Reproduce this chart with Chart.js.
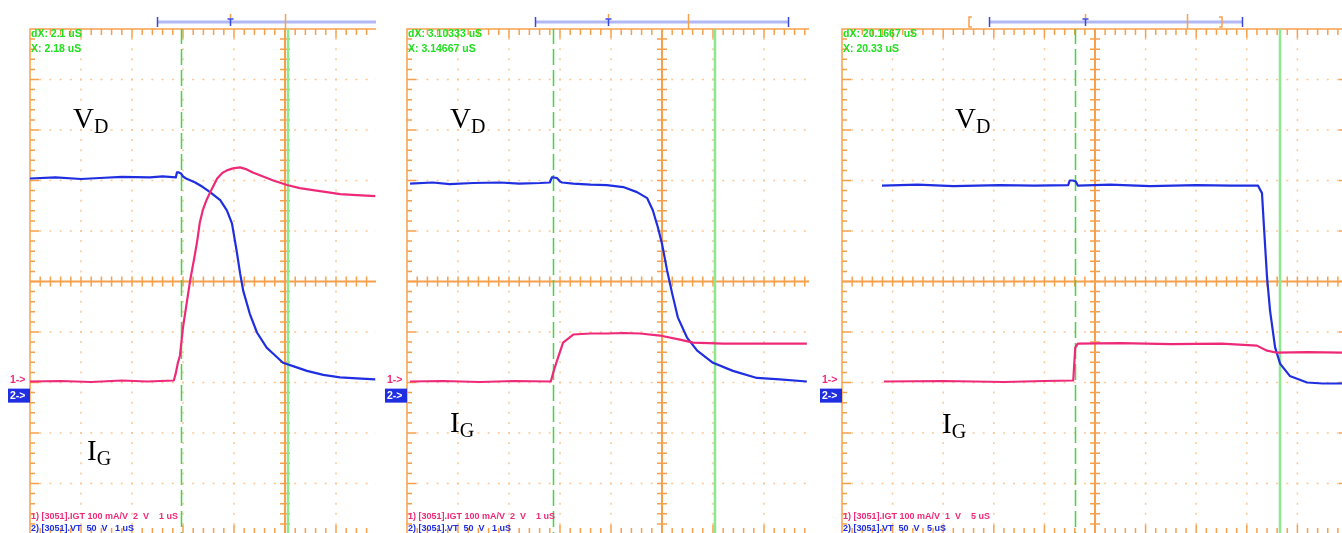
<!DOCTYPE html>
<html>
<head>
<meta charset="utf-8">
<script src="https://cdn.jsdelivr.net/npm/chart.js@4.4.0/dist/chart.umd.min.js"></script>
<style>
  html, body { margin: 0; padding: 0; background: #fff; }
  #page { position: relative; width: 1342px; height: 533px; overflow: hidden; }
  .wrap { position: absolute; top: 0; height: 533px; overflow: hidden; }
  .wrap canvas { position: absolute; left: 0; top: 0; }
  .lbl { position: absolute; font-family: "Liberation Serif", "Times New Roman", serif; font-size: 29px; line-height: 29px; color: #000; white-space: nowrap; }
  .lbl span { font-size: 20px; position: relative; top: 5px; }
</style>
</head>
<body>
<div id="page">
  <div class="wrap" id="w0"><canvas id="c0"></canvas></div>
  <div class="wrap" id="w1"><canvas id="c1"></canvas></div>
  <div class="wrap" id="w2"><canvas id="c2"></canvas></div>

  <div class="lbl" style="left:73px;top:104px">V<span>D</span></div>
  <div class="lbl" style="left:87px;top:436px">I<span>G</span></div>
  <div class="lbl" style="left:450px;top:104px">V<span>D</span></div>
  <div class="lbl" style="left:450px;top:408px">I<span>G</span></div>
  <div class="lbl" style="left:955px;top:104px">V<span>D</span></div>
  <div class="lbl" style="left:942px;top:409px">I<span>G</span></div>
</div>

<script>
// traces in screen divisions: x 0..10 from the left edge, y -5..5 from the centre line
const P1_VD_X = [0, 0.5, 1.0, 1.37, 1.8, 2.35, 2.6, 2.86, 2.88, 2.92, 2.96, 3.0, 3.06, 3.24, 3.39, 3.53, 3.73, 3.86, 3.96, 4.05, 4.12, 4.18, 4.31, 4.45, 4.64, 4.77, 4.96, 5.20, 5.43, 5.75, 6.08, 6.41, 6.77];
const P1_VD_Y = [2.04, 2.06, 2.03, 2.05, 2.07, 2.06, 2.08, 2.06, 2.16, 2.16, 2.14, 2.08, 2.04, 1.96, 1.87, 1.77, 1.61, 1.41, 1.15, 0.62, 0.16, -0.18, -0.64, -1.01, -1.31, -1.43, -1.61, -1.69, -1.77, -1.85, -1.90, -1.92, -1.94];
const P1_IG_X = [0, 0.6, 1.2, 1.8, 2.3, 2.82, 2.86, 2.90, 2.94, 3.0, 3.08, 3.14, 3.22, 3.28, 3.33, 3.39, 3.46, 3.53, 3.67, 3.77, 3.86, 3.98, 4.12, 4.25, 4.37, 4.57, 4.77, 5.04, 5.29, 5.55, 5.82, 6.08, 6.41, 6.77];
const P1_IG_Y = [-1.98, -1.97, -1.99, -1.96, -1.98, -1.96, -1.81, -1.61, -1.47, -0.91, -0.38, 0.02, 0.46, 0.81, 1.17, 1.42, 1.61, 1.76, 2.04, 2.15, 2.20, 2.24, 2.26, 2.22, 2.16, 2.08, 2.00, 1.91, 1.85, 1.81, 1.77, 1.73, 1.71, 1.69];

const P2_VD_X = [0.06, 0.5, 0.84, 1.3, 1.82, 2.2, 2.61, 2.80, 2.84, 2.88, 2.94, 3.0, 3.04, 3.26, 3.6, 3.92, 4.24, 4.51, 4.71, 4.82, 4.92, 5.0, 5.10, 5.20, 5.31, 5.49, 5.69, 6.0, 6.39, 6.86, 7.31, 7.84];
const P2_VD_Y = [1.94, 1.96, 1.93, 1.95, 1.96, 1.94, 1.95, 1.96, 2.06, 2.06, 2.05, 1.98, 1.96, 1.94, 1.92, 1.91, 1.87, 1.77, 1.65, 1.41, 1.07, 0.75, 0.22, -0.24, -0.71, -1.11, -1.37, -1.61, -1.77, -1.91, -1.94, -1.98];
const P2_IG_X = [0.06, 0.7, 1.43, 2.1, 2.82, 2.86, 2.94, 3.06, 3.26, 3.6, 3.92, 4.25, 4.57, 4.96, 5.35, 5.61, 6.2, 7.0, 7.84];
const P2_IG_Y = [-1.98, -1.97, -1.99, -1.97, -1.98, -1.83, -1.57, -1.21, -1.05, -1.03, -1.03, -1.02, -1.03, -1.07, -1.15, -1.21, -1.23, -1.23, -1.23];

const P3_VD_X = [0.79, 1.5, 2.2, 3.12, 3.8, 4.47, 4.50, 4.56, 4.62, 4.66, 5.3, 6.09, 7.0, 7.7, 8.22, 8.30, 8.34, 8.40, 8.46, 8.56, 8.66, 8.85, 9.19, 9.5, 9.88];
const P3_VD_Y = [1.90, 1.92, 1.89, 1.91, 1.90, 1.91, 2.00, 2.00, 1.98, 1.90, 1.92, 1.89, 1.91, 1.90, 1.90, 1.75, 1.07, 0.08, -0.58, -1.31, -1.63, -1.87, -2.00, -2.02, -2.02];
const P3_IG_X = [0.83, 2.0, 3.2, 4.0, 4.57, 4.61, 4.66, 5.5, 6.5, 7.5, 8.20, 8.40, 8.60, 9.2, 9.88];
const P3_IG_Y = [-1.98, -1.97, -1.99, -1.97, -1.96, -1.31, -1.23, -1.22, -1.24, -1.23, -1.27, -1.37, -1.41, -1.40, -1.41];

// cursors and top position bar, in divisions
const CURSOR_DASHED = [2.97, 2.87, 4.60];
const CURSOR_SOLID = [5.06, 6.03, 8.66];
const BAR_START = [2.49, 2.51, 2.905];
const BAR_END = [11, 7.47, 7.905];
const TRIG_POS = [3.92, 3.94, 4.80];
const POS_MARK = [5.0, 5.51, 6.82];

const DX_TEXT = ["dX: 2.1 uS", "dX: 3.10333 uS", "dX: 20.1667 uS"];
const X_TEXT = ["X: 2.18 uS", "X: 3.14667 uS", "X: 20.33 uS"];
const CH1_TEXT = ["1) [3051].IGT 100 mA/V  2  V    1 uS", "1) [3051].IGT 100 mA/V  2  V    1 uS", "1) [3051].IGT 100 mA/V  1  V    5 uS"];
const CH2_TEXT = ["2) [3051].VT  50  V   1 uS", "2) [3051].VT  50  V   1 uS", "2) [3051].VT  50  V   5 uS"];
const CH1_REF = -1.98;
const CH2_REF = -2.26;

const ORANGE = "#f7a04c";
const DOTS = "#fbc894";
const PINK = "#ee2a78";
const BLUE = "#1f2fe0";

const panels = [
  { wrapLeft: 0, wrapWidth: 376, gridLeft: 30, dw: 51, vd: [P1_VD_X, P1_VD_Y], ig: [P1_IG_X, P1_IG_Y] },
  { wrapLeft: 380, wrapWidth: 429, gridLeft: 407, dw: 51, vd: [P2_VD_X, P2_VD_Y], ig: [P2_IG_X, P2_IG_Y] },
  { wrapLeft: 818, wrapWidth: 524, gridLeft: 842, dw: 50.6, vd: [P3_VD_X, P3_VD_Y], ig: [P3_IG_X, P3_IG_Y] }
];

function line(ctx, x1, y1, x2, y2) {
  ctx.beginPath(); ctx.moveTo(x1, y1); ctx.lineTo(x2, y2); ctx.stroke();
}

function makeScope(k) {
  return {
    id: "scope" + k,
    beforeDatasetsDraw(chart) {
      const ctx = chart.ctx, a = chart.chartArea;
      const dw = (a.right - a.left) / 10, dh = (a.bottom - a.top) / 10;
      const cx = a.left + 5 * dw, cy = a.top + 5 * dh;
      ctx.save();

      // dotted division lines
      ctx.strokeStyle = DOTS; ctx.lineWidth = 1.5; ctx.lineDashOffset = 1;
      ctx.setLineDash([2, dh / 5 - 2]);
      for (let i = 1; i < 10; i++) if (i !== 5) line(ctx, a.left + i * dw, a.top, a.left + i * dw, a.bottom);
      ctx.setLineDash([2, dw / 5 - 2]);
      for (let i = 1; i < 10; i++) if (i !== 5) line(ctx, a.left, a.top + i * dh, a.right, a.top + i * dh);
      ctx.setLineDash([]);

      // frame with ticks
      ctx.strokeStyle = ORANGE; ctx.lineWidth = 1.5;
      ctx.strokeRect(a.left, a.top, a.right - a.left, a.bottom - a.top);
      ctx.beginPath();
      for (let j = 1; j < 50; j++) {
        const x = a.left + j * dw / 5, L = j % 5 === 0 ? 9 : 6;
        ctx.moveTo(x, a.top); ctx.lineTo(x, a.top + L);
        ctx.moveTo(x, a.bottom); ctx.lineTo(x, a.bottom - L);
        const y = a.top + j * dh / 5, M = j % 5 === 0 ? 9 : 5;
        ctx.moveTo(a.left, y); ctx.lineTo(a.left + M, y);
        ctx.moveTo(a.right, y); ctx.lineTo(a.right - M, y);
      }
      ctx.stroke();

      // centre axes
      ctx.lineWidth = 2;
      line(ctx, cx, a.top, cx, a.bottom);
      line(ctx, a.left, cy, a.right, cy);
      ctx.lineWidth = 1.5;
      ctx.beginPath();
      for (let j = 1; j < 50; j++) {
        const x = a.left + j * dw / 5, y = a.top + j * dh / 5;
        ctx.moveTo(x, cy - 5); ctx.lineTo(x, cy + 5);
        ctx.moveTo(cx - 5, y); ctx.lineTo(cx + 5, y);
      }
      ctx.stroke();

      // cursors
      const xs = chart.scales.x;
      ctx.strokeStyle = "#3ed83e"; ctx.lineWidth = 1.5; ctx.setLineDash([16, 5]);
      const xa = Math.round(xs.getPixelForValue(CURSOR_DASHED[k])) + 0.5;
      line(ctx, xa, a.top, xa, a.bottom);
      ctx.setLineDash([]);
      ctx.strokeStyle = "#8ee88e"; ctx.lineWidth = 2.5;
      const xb = Math.round(xs.getPixelForValue(CURSOR_SOLID[k]));
      line(ctx, xb, a.top, xb, a.bottom);
      ctx.restore();
    },
    afterDraw(chart) {
      const ctx = chart.ctx, a = chart.chartArea;
      const xs = chart.scales.x, ys = chart.scales.y;
      ctx.save();

      // position bar above the screen
      const by = a.top - 7;
      ctx.strokeStyle = "#b2b8f4"; ctx.lineWidth = 3;
      line(ctx, xs.getPixelForValue(BAR_START[k]), by, xs.getPixelForValue(BAR_END[k]), by);
      ctx.strokeStyle = "#3a46e0"; ctx.lineWidth = 1.5;
      for (const v of [BAR_START[k], BAR_END[k]]) {
        const x = Math.round(xs.getPixelForValue(v)) + 0.5;
        line(ctx, x, by - 5, x, by + 5);
      }
      const tx = Math.round(xs.getPixelForValue(TRIG_POS[k])) + 0.5;
      line(ctx, tx - 3, by - 3, tx + 3, by - 3);
      line(ctx, tx, by - 3, tx, by + 4);
      ctx.strokeStyle = ORANGE;
      line(ctx, tx, by - 8, tx, by - 4);
      const px = Math.round(xs.getPixelForValue(POS_MARK[k])) + 0.5;
      line(ctx, px, by - 8, px, a.top);
      if (k === 2) {
        const l = xs.getPixelForValue(2.51), r = xs.getPixelForValue(7.51);
        ctx.beginPath();
        ctx.moveTo(l + 3, by - 5); ctx.lineTo(l, by - 5); ctx.lineTo(l, by + 5); ctx.lineTo(l + 3, by + 5);
        ctx.moveTo(r - 3, by - 5); ctx.lineTo(r, by - 5); ctx.lineTo(r, by + 5); ctx.lineTo(r - 3, by + 5);
        ctx.stroke();
      }

      // cursor readout
      ctx.font = 'bold 10.5px "Liberation Sans", Arial, sans-serif';
      ctx.textBaseline = "middle"; ctx.textAlign = "left";
      ctx.fillStyle = "#1ee01e";
      ctx.fillText(DX_TEXT[k], a.left + 1, a.top + 5);
      ctx.fillText(X_TEXT[k], a.left + 1, a.top + 20);

      // channel settings
      ctx.font = 'bold 9px "Liberation Sans", Arial, sans-serif';
      ctx.fillStyle = PINK;
      ctx.fillText(CH1_TEXT[k], a.left + 1, a.top + 488);
      ctx.fillStyle = BLUE;
      ctx.fillText(CH2_TEXT[k], a.left + 1, a.top + 500);

      // channel reference markers
      ctx.font = 'bold 10.5px "Liberation Sans", Arial, sans-serif';
      ctx.fillStyle = PINK;
      ctx.fillText("1->", a.left - 20, ys.getPixelForValue(CH1_REF) - 1);
      const y2 = ys.getPixelForValue(CH2_REF);
      ctx.fillStyle = "#1e2ee0";
      ctx.fillRect(a.left - 22, y2 - 7, 22, 14);
      ctx.fillStyle = "#fff";
      ctx.fillText("2->", a.left - 20, y2);
      ctx.restore();
    }
  };
}

panels.forEach((p, k) => {
  const wrap = document.getElementById("w" + k);
  wrap.style.left = p.wrapLeft + "px";
  wrap.style.width = p.wrapWidth + "px";
  const canvas = document.getElementById("c" + k);
  const padLeft = p.gridLeft - p.wrapLeft;
  const w = Math.ceil(padLeft + p.dw * 10 + 10), h = 545;
  canvas.width = w; canvas.height = h;
  canvas.style.width = w + "px"; canvas.style.height = h + "px";

  const toPts = (xs, ys) => xs.map((x, i) => ({ x: x, y: ys[i] }));

  new Chart(canvas.getContext("2d"), {
    type: "line",
    data: {
      datasets: [
        { data: toPts(p.ig[0], p.ig[1]), borderColor: PINK, borderWidth: 2.2 },
        { data: toPts(p.vd[0], p.vd[1]), borderColor: BLUE, borderWidth: 2.2 }
      ]
    },
    options: {
      responsive: false,
      animation: false,
      devicePixelRatio: 1,
      layout: { padding: { left: padLeft, top: 29, right: w - padLeft - p.dw * 10, bottom: h - 29 - 505 } },
      elements: { point: { radius: 0 }, line: { tension: 0, borderJoinStyle: "round" } },
      scales: {
        x: { type: "linear", min: 0, max: 10, display: false },
        y: { type: "linear", min: -5, max: 5, display: false }
      },
      plugins: { legend: { display: false }, tooltip: { enabled: false } },
      events: []
    },
    plugins: [makeScope(k)]
  });
});
</script>
</body>
</html>
